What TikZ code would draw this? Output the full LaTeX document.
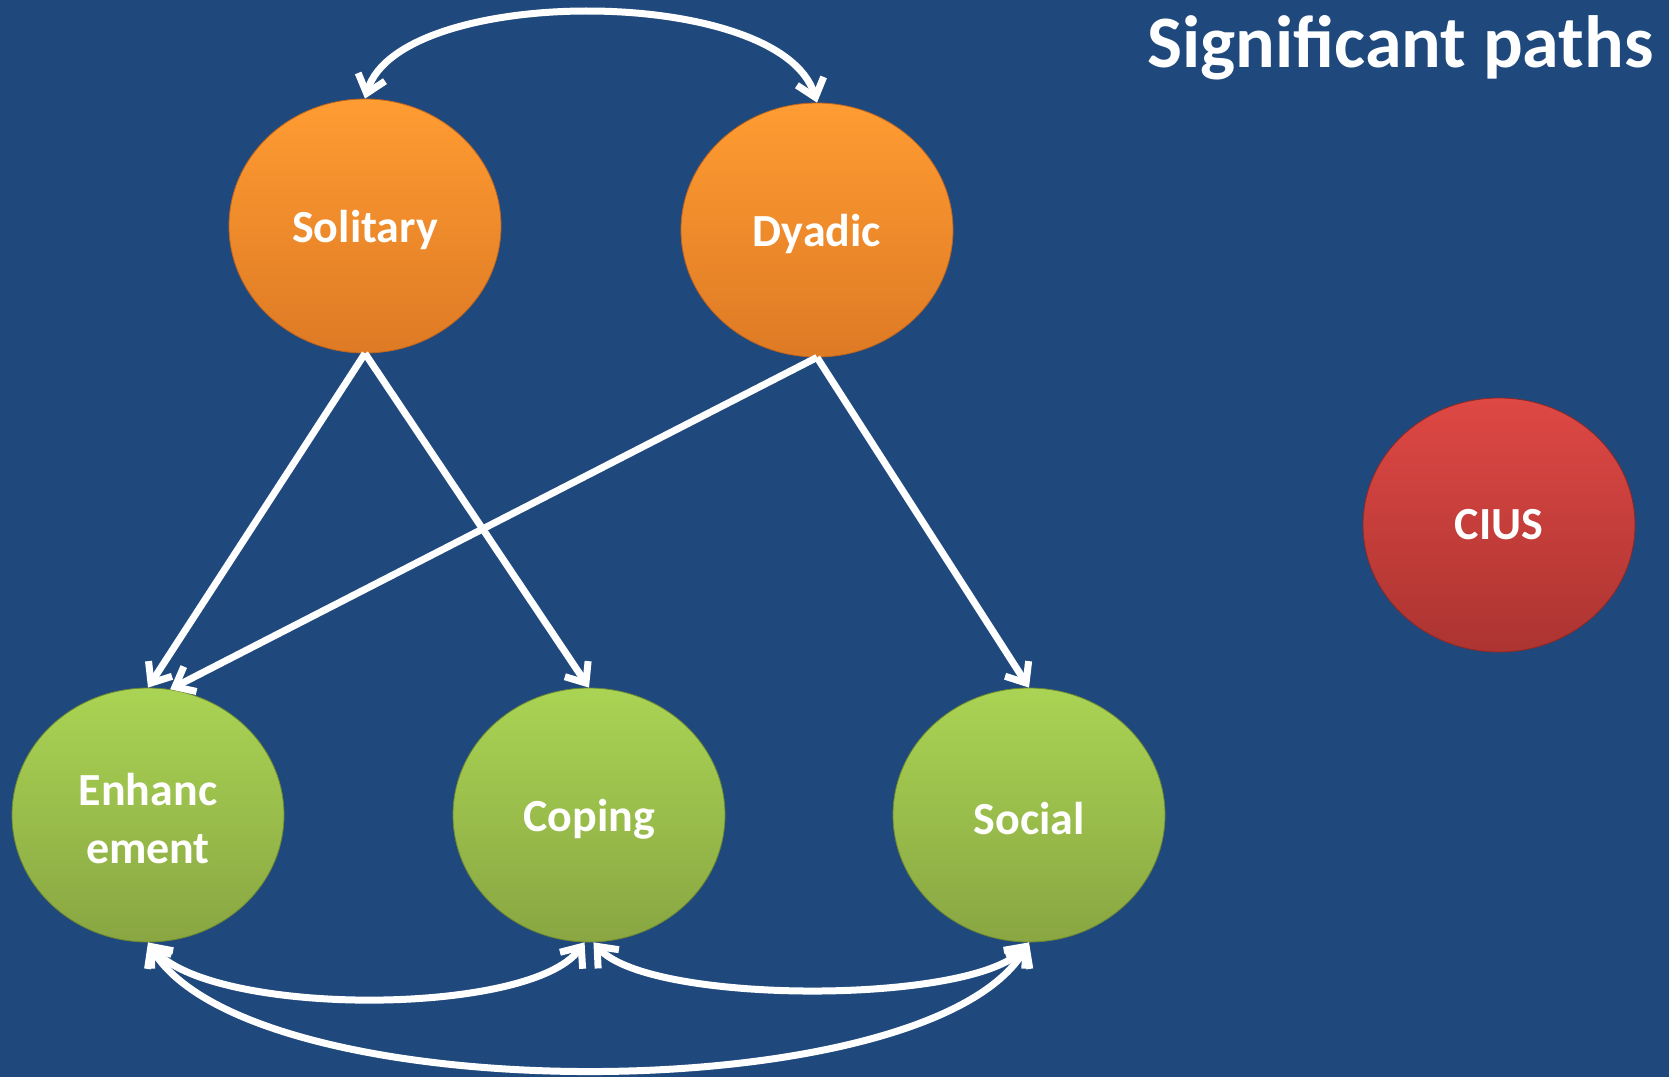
\documentclass[tikz,border=0pt]{standalone}
\usepackage{fontspec}
\setmainfont{Carlito}
\usetikzlibrary{shapes.geometric,arrows.meta}
\definecolor{slidebg}{HTML}{1F497D}
\definecolor{orangetop}{RGB}{255,156,50}
\definecolor{orangebot}{RGB}{222,122,36}
\definecolor{orangeedge}{RGB}{190,100,30}
\definecolor{greentop}{RGB}{170,212,84}
\definecolor{greenbot}{RGB}{137,166,66}
\definecolor{greenedge}{RGB}{110,135,50}
\definecolor{redtop}{RGB}{222,72,68}
\definecolor{redbot}{RGB}{172,52,49}
\definecolor{rededge}{RGB}{140,40,38}
\newcommand{\lowlabel}[1]{\raisebox{-4pt}[\height][\depth]{#1}}
\tikzset{
  motive/.style={ellipse, minimum width=272pt, minimum height=254pt, inner sep=0pt,
    draw=#1, line width=0.8pt, text=white, align=center,
    font=\bfseries\fontsize{46}{58}\selectfont},
  orangenode/.style={motive=orangeedge, top color=orangetop, bottom color=orangebot},
  greennode/.style={motive=greenedge, top color=greentop, bottom color=greenbot},
  rednode/.style={motive=rededge, top color=redtop, bottom color=redbot},
  path/.style={draw=white, line width=7pt, >={Straight Barb[length=17pt,width=28pt]}}
}
\begin{document}
\begin{tikzpicture}[x=1pt,y=-1pt]
        \fill[slidebg] (0,0) rectangle (1669,1077);
        \useasboundingbox (0,0) rectangle (1669,1077);
        \node (sol) at (365,226) [orangenode] {\lowlabel{Solitary}};
        \node (dya) at (817,230) [orangenode] {\lowlabel{Dyadic}};
        \node (enh) at (148,815) [greennode] {\lowlabel{Enhanc}\\\lowlabel{ement}};
        \node (cop) at (589,815) [greennode] {\lowlabel{Coping}};
        \node (soc) at (1029,815) [greennode] {\lowlabel{Social}};
        \node (cius) at (1499,525) [rednode] {CIUS};
        \node (title) at (1657,67) [anchor=base east, text=white, font=\bfseries\fontsize{74}{80}\selectfont] {Significant paths};

        \draw[path, <->] (sol.north) .. controls (400,-16) and (780,-16) .. (dya.north);
        \draw[path, ->] (sol.south) -- (enh.north);
        \draw[path, ->] (sol.south) -- (cop.north);
        \draw[path, ->] (dya.south) -- (enh.80);
        \draw[path, ->] (dya.south) -- (soc.north);
        \draw[path, <->] (enh.south) .. controls (210,1017) and (530,1017) .. (cop.-92);
        \draw[path, <->] (cop.-88) .. controls (650,1005) and (975,1005) .. (soc.south);
        \draw[path, <->] (enh.south) .. controls (250,1112) and (930,1112) .. (soc.south);
      \end{tikzpicture}
\end{document}
